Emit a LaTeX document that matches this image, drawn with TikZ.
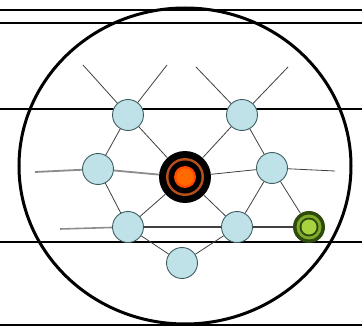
\documentclass[tikz,border=0pt]{standalone}
\usetikzlibrary{backgrounds}

\definecolor{nodeblue}{HTML}{BFE2E8}
\definecolor{nodeedge}{HTML}{3E5E62}
\definecolor{coreorange}{HTML}{FF6A00}
\definecolor{corering}{HTML}{B8501C}
\definecolor{greendark}{HTML}{2E4A0C}
\definecolor{greenmid}{HTML}{7FAA2C}
\definecolor{greenlight}{HTML}{A8D33F}

\tikzset{
  site/.style={circle, draw=nodeedge, line width=0.9pt, fill=nodeblue, minimum size=31pt, inner sep=0pt},
  corenode/.style={circle, fill=black, minimum size=52pt, inner sep=0pt},
  greennode/.style={circle, fill=greendark, minimum size=32pt, inner sep=0pt},
  link/.style={draw=black!75, line width=0.8pt},
  rule/.style={draw=black, line width=1.5pt}
}

\begin{document}
\begin{tikzpicture}[x=1pt, y=-1pt]
    \useasboundingbox (0,0) rectangle (362,329);
    % full width rules
    \foreach \yy in {10,23,109,242,325} \draw[rule] (0,\yy) -- (362,\yy);
    \draw[line width=3pt] (185,166) ellipse (166 and 158);

    % sites
    \node[site] (tl) at (128,115) {};
    \node[site] (tr) at (242,115) {};
    \node[site] (ml) at (98,169) {};
    \node[site] (mr) at (272,168) {};
    \node[site] (bl) at (128,227) {};
    \node[site] (br) at (237,227) {};
    \node[site] (bt) at (182,263) {};
    \node[corenode] (core) at (185,177) {};
    \fill[corering] (core) circle (19);
    \fill[black] (core) circle (16.5);
    \fill[coreorange!70!red] (core) circle (11);
    \fill[coreorange] (core) circle (8.5);
    \node[greennode] (gr) at (309,227) {};
    \fill[greenmid] (gr) circle (12.5);
    \fill[greendark] (gr) circle (9.5);
    \fill[greenlight] (gr) circle (7.5);

    \coordinate (a1) at (83,65);
    \coordinate (a2) at (167,65);
    \coordinate (a3) at (196,67);
    \coordinate (a4) at (288,67);
    \coordinate (h1l) at (35,172);
    \coordinate (h1r) at (335,171);
    \coordinate (h2l) at (60,229);

    % links
    \draw[link] (a1) -- (tl) -- (a2);
    \draw[link] (a3) -- (tr) -- (a4);
    \draw[link] (tl) -- (ml) (tl) -- (core) (tr) -- (core) (tr) -- (mr);
    \draw[link] (ml) -- (bl) (bl) -- (core) (bl) -- (bt);
    \draw[link] (br) -- (core) (br) -- (bt) (br) -- (mr) (mr) -- (gr);
    \draw[draw=black!45, line width=1.8pt] (h1l) -- (ml) -- (core);
    \draw[link] (core) -- (mr) -- (h1r);
    \draw[draw=black!45, line width=1.6pt] (h2l) -- (bl);
    \draw[link, line width=1.1pt] (bl) -- (br) -- (gr);
\end{tikzpicture}
\end{document}
